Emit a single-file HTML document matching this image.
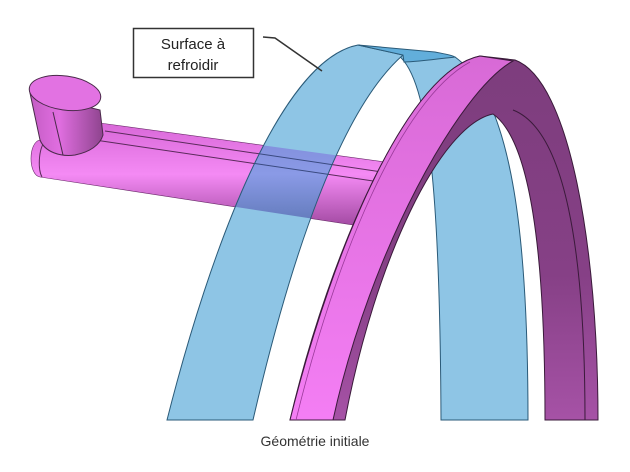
<!DOCTYPE html>
<html><head><meta charset="utf-8"><style>
html,body{margin:0;padding:0;background:#fff;}
body{width:630px;height:467px;overflow:hidden;}
</style></head><body>
<svg width="630" height="467" viewBox="0 0 630 467" xmlns="http://www.w3.org/2000/svg">
<defs>
<linearGradient id="pipe" x1="0" y1="0" x2="0" y2="1">
<stop offset="0" stop-color="#d868d8"/><stop offset="0.5" stop-color="#f48af4"/><stop offset="1" stop-color="#a24aa2"/>
</linearGradient>
<linearGradient id="pipeb" x1="0" y1="0" x2="0" y2="1">
<stop offset="0" stop-color="#7f8ad8"/><stop offset="0.5" stop-color="#8a9ae6"/><stop offset="1" stop-color="#5f78b8"/>
</linearGradient>
<linearGradient id="front" x1="0" y1="0" x2="0" y2="1">
<stop offset="0" stop-color="#d86ad6"/><stop offset="1" stop-color="#f47ef4"/>
</linearGradient>
<linearGradient id="dark" x1="0" y1="0" x2="0" y2="1">
<stop offset="0" stop-color="#7d3d7d"/><stop offset="0.6" stop-color="#864086"/><stop offset="1" stop-color="#a652a6"/>
</linearGradient>
<linearGradient id="cyl" x1="0" y1="0" x2="1" y2="0">
<stop offset="0" stop-color="#c45cc4"/><stop offset="0.4" stop-color="#e06ee0"/><stop offset="1" stop-color="#8e448e"/>
</linearGradient>
<clipPath id="band"><path d="M167,420 C210,250 280,60 358,45 L403,55 C340,110 290,260 253,420 Z"/></clipPath>
</defs>

<!-- back blue band -->
<path d="M398,55 C430,80 440,200 441,420 L528,420 C528,250 515,100 455,57 Z" fill="#8ec5e5" stroke="#2a5a78" stroke-width="1"/>

<!-- pipe -->
<path d="M40,140 L100,123 L385,162 L382,200 L360,226 L40,177 C28,175 28,142 40,140 Z" fill="url(#pipe)" stroke="#6a2a6a" stroke-width="0.6"/>
<path d="M105,131 L382,172" stroke="#5a2a5a" stroke-width="1" fill="none"/>
<path d="M95,140 L380,182" stroke="#5a2a5a" stroke-width="1" fill="none"/>
<path d="M45,141 C38,150 38,170 42,177" stroke="#5a2a5a" stroke-width="1" fill="none"/>

<!-- cylinder cap -->
<path d="M30,93 L40,140 C45,152 60,157 75,155 C90,152 100,145 103,135 L100,110 Z" fill="url(#cyl)" stroke="#4a2a4a" stroke-width="1"/>
<ellipse cx="65" cy="93" rx="36" ry="17" transform="rotate(8 65 93)" fill="#e272e2" stroke="#4a2a4a" stroke-width="1"/>
<path d="M53,112 L63,155" stroke="#4a2a4a" stroke-width="1"/>

<!-- front blue band -->
<path d="M167,420 C210,250 280,60 358,45 L403,55 C340,110 290,260 253,420 Z" fill="#8ec5e5"/>
<g clip-path="url(#band)">
<path d="M40,140 L100,123 L385,162 L382,200 L360,226 L40,177 Z" fill="url(#pipeb)"/>
<path d="M105,131 L382,172" stroke="#3a4a80" stroke-width="1" fill="none"/>
<path d="M95,140 L380,182" stroke="#3a4a80" stroke-width="1" fill="none"/>
</g>
<path d="M167,420 C210,250 280,60 358,45 L403,55 C340,110 290,260 253,420 Z" fill="none" stroke="#2a5a78" stroke-width="1"/>
<path d="M358,45 L435,52 C445,54 452,55 455,57 C430,60 415,62 404,62 L403,55 Z" fill="#62aedb" stroke="#2a5a78" stroke-width="1"/>

<!-- magenta ring -->
<path d="M290,420 C330,250 410,70 480,56 L515,60 C570,80 598,250 598,420 L545,420 C545,250 530,140 493,114 C440,125 375,260 345,420 Z" fill="url(#dark)" stroke="#3a1a3a" stroke-width="1"/>
<path d="M290,420 C335,240 410,70 480,56 L513,61 C460,90 370,250 333,420 Z" fill="url(#front)" stroke="#3a1a3a" stroke-width="1"/>
<path d="M585,420 C585,250 565,130 513,110" stroke="#3a1a3a" stroke-width="1" fill="none"/>
<path d="M296,420 C335,260 400,100 470,62" stroke="#9a3a9a" stroke-width="0.8" fill="none"/>

<!-- label -->
<rect x="133.5" y="28.5" width="120" height="49" fill="#fff" stroke="#333" stroke-width="1.5"/>
<text x="193" y="49" font-family="Liberation Sans, sans-serif" font-size="15" text-anchor="middle" fill="#222">Surface à</text>
<text x="193" y="70" font-family="Liberation Sans, sans-serif" font-size="15" text-anchor="middle" fill="#222">refroidir</text>
<path d="M263,37 L275,38 L322,71" stroke="#333" stroke-width="1.5" fill="none"/>

<text x="315" y="446" font-family="Liberation Sans, sans-serif" font-size="14" text-anchor="middle" fill="#333">Géométrie initiale</text>
</svg>
</body></html>
